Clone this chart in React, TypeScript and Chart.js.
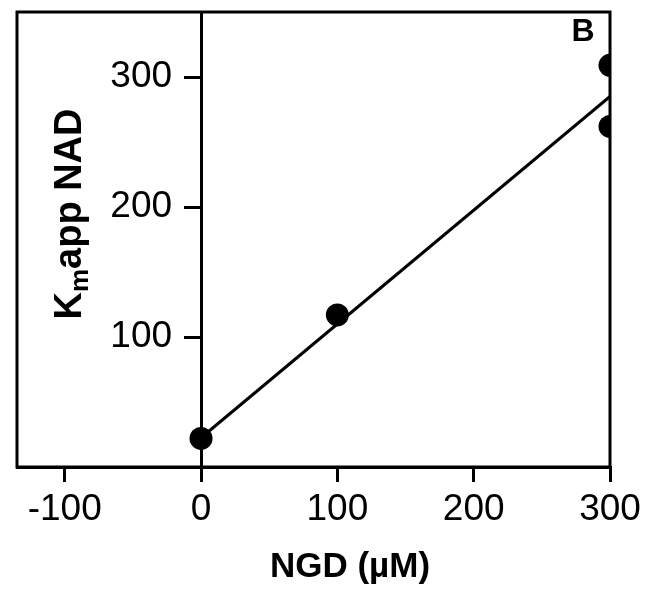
import React, { useEffect, useRef } from "react";
import { Chart, registerables, LinearScale } from "chart.js";

Chart.register(...registerables);

// y-axis placed at x = 0: push its tick labels outside the tick marks
class AxisAtValueScale extends LinearScale {
  static id = "axisAtValue";
  static defaults = (LinearScale as any).defaults;
  _computeLabelItems(chartArea: any) {
    const items = (super._computeLabelItems as any)(chartArea);
    const o: any = this.options;
    const shift = o.grid.tickLength + o.ticks.padding;
    items.forEach((it: any) => {
      it.options.translation[0] -= shift;
    });
    return items;
  }
}
Chart.register(AxisAtValueScale as any);

// ---- data ----
const pointX = [0, 100, 300, 300];
const pointY = [22, 117, 309, 262];
const fitX = [0, 300];
const fitY = [22.5, 285];
const xTicks = [-100, 0, 100, 200, 300];
const yTicks = [100, 200, 300];
const xTitle = "NGD (µM)";
const yTitleMain = "K";
const yTitleSub = "m";
const yTitleRest = "app NAD";
const panelLabel = "B";

const FONT = "'Liberation Sans', Arial, Helvetica, sans-serif";

const overlay = {
  id: "overlay",
  afterDraw(chart: any) {
    const { ctx, chartArea: a } = chart;
    ctx.save();
    ctx.strokeStyle = "#000";
    ctx.lineWidth = 3;
    ctx.strokeRect(a.left, a.top, a.right - a.left, a.bottom - a.top);
    ctx.fillStyle = "#000";
    ctx.textAlign = "center";
    ctx.textBaseline = "middle";
    ctx.font = `bold 32px ${FONT}`;
    ctx.fillText(panelLabel, a.right - 27, a.top + 20);
    ctx.font = `bold 35px ${FONT}`;
    ctx.fillText(xTitle, 350, 567);
    // y title with subscript (baseline on the right side after rotation)
    ctx.translate(81, 214);
    ctx.rotate(-Math.PI / 2);
    ctx.textAlign = "left";
    ctx.textBaseline = "alphabetic";
    const mainFont = `bold 38px ${FONT}`;
    const subFont = `bold 26px ${FONT}`;
    ctx.font = mainFont;
    const wK = ctx.measureText(yTitleMain).width;
    const wR = ctx.measureText(yTitleRest).width;
    ctx.font = subFont;
    const wS = ctx.measureText(yTitleSub).width;
    const total = wK + wS + wR;
    const x0 = -total / 2;
    ctx.font = mainFont;
    ctx.fillText(yTitleMain, x0, 0);
    ctx.font = subFont;
    ctx.fillText(yTitleSub, x0 + wK, 7);
    ctx.font = mainFont;
    ctx.fillText(yTitleRest, x0 + wK + wS, 0);
    ctx.restore();
  },
};

export default function App() {
  const ref = useRef<HTMLCanvasElement>(null);
  useEffect(() => {
    document.body.style.margin = "0";
    const canvas = ref.current!;
    const chart = new Chart(canvas, {
      type: "scatter",
      data: {
        datasets: [
          {
            label: "data",
            data: pointX.map((x, i) => ({ x, y: pointY[i] })),
            backgroundColor: "#000",
            borderColor: "#000",
            borderWidth: 0,
            pointRadius: 11.5,
            pointHoverRadius: 11.5,
            showLine: false,
          },
          {
            label: "fit",
            data: fitX.map((x, i) => ({ x, y: fitY[i] })),
            borderColor: "#000",
            backgroundColor: "#000",
            borderWidth: 3,
            pointRadius: 0,
            showLine: true,
          },
        ],
      },
      options: {
        animation: false,
        responsive: false,
        devicePixelRatio: 1,
        layout: { padding: { left: 17, right: 36, top: 12, bottom: 0 } },
        plugins: { legend: { display: false }, tooltip: { enabled: false }, title: { display: false } },
        scales: {
          x: {
            type: "linear",
            position: "bottom",
            min: -135,
            max: 300,
            afterBuildTicks: (s: any) => {
              s.ticks = xTicks.map((v) => ({ value: v }));
            },
            afterFit: (s: any) => {
              s.paddingLeft = 0;
              s.paddingRight = 0;
              s.height = 123;
            },
            border: { display: true, color: "#000", width: 3 },
            grid: { drawOnChartArea: false, drawTicks: true, tickLength: 15, color: "#000", lineWidth: 3 },
            ticks: {
              color: "#000",
              font: { family: FONT, size: 37 },
              padding: 6,
              maxRotation: 0,
              autoSkip: false,
            },
          },
          y: {
            type: "axisAtValue",
            position: { x: 0 } as any,
            min: 0,
            max: 350,
            afterBuildTicks: (s: any) => {
              s.ticks = yTicks.map((v) => ({ value: v }));
            },
            afterFit: (s: any) => {
              s.paddingTop = 0;
              s.paddingBottom = 0;
            },
            border: { display: true, color: "#000", width: 3 },
            grid: { drawOnChartArea: false, drawTicks: true, tickLength: 16, color: "#000", lineWidth: 3 },
            ticks: {
              color: "#000",
              font: { family: FONT, size: 37 },
              padding: 13,
              autoSkip: false,
            },
          } as any,
        },
      },
      plugins: [overlay],
    });
    return () => chart.destroy();
  }, []);
  return (
    <div style={{ width: 646, height: 590 }}>
      <canvas ref={ref} width={646} height={590} style={{ display: "block" }} />
    </div>
  );
}
